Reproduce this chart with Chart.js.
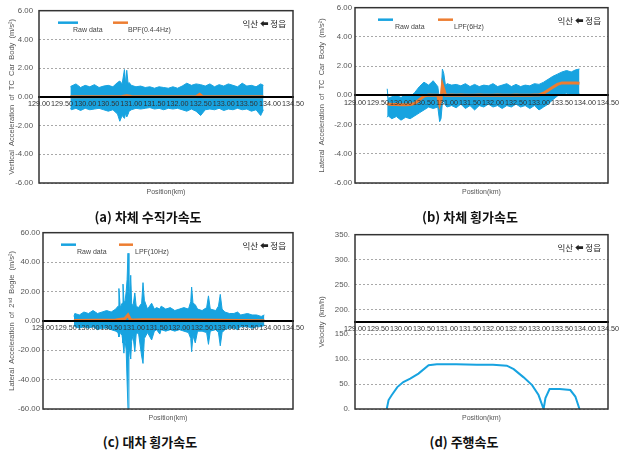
<!DOCTYPE html>
<html>
<head>
<meta charset="utf-8">
<script src="https://cdn.jsdelivr.net/npm/chart.js@4.4.0/dist/chart.umd.min.js"></script>
<style>
  html, body { margin: 0; padding: 0; background: #fff; }
  body { width: 625px; height: 454px; position: relative; overflow: hidden; }
  canvas { position: absolute; }
  .cap {
    position: absolute; font-family: "Noto Sans CJK KR", sans-serif; font-weight: bold;
    font-size: 13px; line-height: 16px; color: #111; white-space: nowrap; transform: translateX(-50%);
  }
</style>
</head>
<body>
<canvas id="chartA" width="310" height="200" style="left:0;top:0"></canvas>
<canvas id="chartB" width="315" height="200" style="left:310px;top:0"></canvas>
<canvas id="chartC" width="310" height="200" style="left:0;top:225px"></canvas>
<canvas id="chartD" width="315" height="200" style="left:310px;top:225px"></canvas>
<div class="cap" style="left:148px;top:209px">(a) 차체 수직가속도</div>
<div class="cap" style="left:470px;top:209px">(b) 차체 횡가속도</div>
<div class="cap" style="left:150px;top:434px">(c) 대차 횡가속도</div>
<div class="cap" style="left:464px;top:434px">(d) 주행속도</div>
<script>
// x axis (km), shared by all four panels
const xTicks = [129.0, 129.5, 130.0, 130.5, 131.0, 131.5, 132.0, 132.5, 133.0, 133.5, 134.0, 134.5];
const yTicksBody = [-6, -4, -2, 0, 2, 4, 6];
const yTicksBogie = [-60, -40, -20, 0, 20, 40, 60];
const yTicksSpeed = [0, 50, 100, 150, 200, 250, 300, 350];

// (a) vertical acceleration, car body - raw data envelope + BPF
const posA = [129.68, 129.70, 129.80, 129.90, 130.00, 130.10, 130.20, 130.30, 130.40, 130.50,
              130.60, 130.70, 130.75, 130.80, 130.85, 130.88, 130.90, 130.93, 130.95, 131.00,
              131.10, 131.20, 131.30, 131.40, 131.50, 131.60, 131.70, 131.80, 131.90, 132.00,
              132.10, 132.20, 132.30, 132.40, 132.50, 132.60, 132.70, 132.80, 132.90, 133.00,
              133.10, 133.20, 133.30, 133.40, 133.50, 133.60, 133.70, 133.80, 133.86];
const rawUpperA = [0.70, 0.75, 0.90, 0.65, 0.80, 0.70, 0.85, 0.65, 0.75, 0.80,
                   0.70, 1.00, 1.10, 0.90, 1.90, 0.80, 1.85, 0.90, 1.00, 0.80,
                   0.70, 0.75, 0.65, 0.70, 0.60, 0.70, 0.65, 0.60, 0.70, 0.60,
                   0.75, 0.95, 0.80, 0.90, 0.85, 0.75, 0.90, 0.70, 0.85, 0.75,
                   0.90, 0.80, 0.70, 0.95, 0.75, 0.80, 0.70, 0.90, 0.80];
const rawLowerA = [-0.80, -0.90, -0.80, -0.95, -0.80, -0.90, -0.85, -0.80, -0.90, -1.00,
                   -0.90, -1.20, -1.70, -1.30, -1.50, -1.10, -1.40, -1.20, -1.00, -0.90,
                   -0.80, -0.85, -0.80, -0.75, -0.85, -0.80, -0.90, -0.80, -0.85, -0.80,
                   -0.90, -1.00, -0.85, -1.00, -1.30, -0.90, -0.85, -0.90, -0.80, -0.95,
                   -0.85, -0.90, -0.80, -0.90, -0.85, -1.00, -0.90, -1.30, -0.90];
const bpfPosA = [129.68, 130.80, 130.90, 131.00, 132.40, 132.48, 132.55, 133.86];
const bpfA = [0.00, 0.02, 0.08, 0.02, 0.00, 0.18, 0.00, 0.00];

// (b) lateral acceleration, car body - raw data envelope + LPF(6Hz)
const posB = [129.70, 129.72, 129.80, 129.90, 130.00, 130.10, 130.20, 130.30, 130.40, 130.50,
              130.60, 130.70, 130.80, 130.84, 130.87, 130.90, 130.93, 130.97, 131.00, 131.10,
              131.20, 131.30, 131.40, 131.50, 131.60, 131.70, 131.80, 131.90, 132.00, 132.10,
              132.20, 132.30, 132.40, 132.50, 132.60, 132.70, 132.80, 132.90, 133.00, 133.10,
              133.20, 133.30, 133.40, 133.50, 133.60, 133.70, 133.80, 133.88];
const rawUpperB = [0.45, -0.20, -0.10, 0.00, -0.15, 0.05, -0.10, 0.20, 0.60, 0.90,
                   0.70, 1.00, 0.60, -0.30, 0.00, 1.80, 1.50, 0.60, 0.80, 0.70,
                   0.75, 0.65, 0.80, 0.60, 0.75, 0.60, 0.70, 0.65, 0.80, 0.60,
                   0.70, 0.80, 0.60, 0.75, 0.60, 0.70, 0.65, 0.80, 0.75, 0.90,
                   1.10, 1.30, 1.45, 1.60, 1.70, 1.60, 1.75, 1.80];
const rawLowerB = [-1.50, -1.40, -1.60, -1.45, -1.70, -1.50, -1.60, -1.40, -1.20, -1.00,
                   -0.80, -0.90, -0.80, -1.80, -1.60, -0.50, -0.40, -0.70, -0.80, -0.70,
                   -0.85, -0.60, -0.90, -0.70, -1.00, -0.70, -0.80, -0.60, -0.80, -0.70,
                   -0.90, -0.70, -0.80, -0.60, -0.80, -0.70, -0.90, -0.70, -1.00, -0.80,
                   -0.60, -0.30, -0.05, 0.10, 0.15, 0.05, 0.10, 0.10];
const lpfB = [-0.60, -0.60, -0.62, -0.63, -0.65, -0.65, -0.62, -0.55, -0.30, -0.05,
              0.02, 0.00, 0.00, -0.60, -0.30, 0.70, 0.40, 0.00, 0.00, 0.02,
              0.00, 0.02, 0.00, 0.01, 0.00, 0.02, 0.00, 0.01, 0.00, 0.02,
              0.00, 0.01, 0.00, 0.02, 0.00, 0.01, 0.00, 0.02, 0.03, 0.15,
              0.35, 0.55, 0.75, 0.85, 0.85, 0.85, 0.85, 0.83];

// (c) lateral acceleration, 2nd bogie - raw data envelope + LPF(10Hz)
const posC = [129.68, 129.70, 129.80, 129.90, 130.00, 130.10, 130.20, 130.30, 130.40, 130.50,
              130.60, 130.65, 130.67, 130.70, 130.74, 130.76, 130.78, 130.80, 130.83, 130.85,
              130.87, 130.89, 130.90, 130.93, 130.95, 130.98, 131.02, 131.05, 131.10, 131.17,
              131.20, 131.23, 131.30, 131.39, 131.45, 131.50, 131.57, 131.60, 131.70, 131.80,
              131.90, 132.00, 132.10, 132.20, 132.25, 132.27, 132.30, 132.35, 132.40, 132.50,
              132.60, 132.64, 132.68, 132.80, 132.86, 132.90, 132.94, 133.00, 133.10, 133.20,
              133.28, 133.35, 133.50, 133.60, 133.70, 133.80, 133.87];
const rawUpperC = [3, 5, 4, 6, 5, 7, 5, 6, 7, 6,
                   8, 10, 22, 9, 12, 25, 14, 12, 20, 28,
                   46, 20, 15, 31, 12, 10, 19, 10, 9, 12,
                   26, 14, 8, 12, 8, 9, 8, 10, 8, 9,
                   7, 8, 9, 8, 13, 23, 12, 11, 8, 7,
                   9, 17, 8, 7, 10, 18, 8, 6, 5, 5,
                   6, 4, 5, 4, 4, 3, 4];
const rawLowerC = [-3, -4, -5, -4, -5, -4, -6, -5, -5, -6,
                   -7, -8, -11, -8, -10, -15, -22, -12, -20, -41,
                   -60, -25, -18, -26, -14, -10, -21, -9, -8, -24,
                   -29, -12, -8, -13, -7, -6, -9, -6, -7, -6,
                   -7, -6, -7, -8, -12, -21, -10, -15, -7, -7,
                   -8, -16, -7, -6, -8, -17, -8, -6, -5, -5,
                   -6, -4, -4, -5, -4, -4, -3];
const lpfPosC = [129.68, 130.60, 130.80, 130.87, 130.92, 131.00, 131.20, 132.30, 133.87];
const lpfC = [0.3, 0.5, 1.5, 4.0, 1.0, 0.5, 0.8, 0.5, 0.0];

// (d) running speed (km/h)
const velPos = [129.69, 129.73, 129.80, 129.92, 130.05, 130.20, 130.38, 130.60, 130.78, 131.20,
                131.65, 132.00, 132.30, 132.45, 132.66, 132.85, 132.99, 133.10, 133.14, 133.23,
                133.45, 133.68, 133.79, 133.88];
const velocity = [0, 18, 28, 44, 54, 61, 71, 88, 90, 90,
                  89, 89, 87, 80, 64, 48, 28, 0, 22, 40,
                  40, 38, 25, 0];

const BLUE = '#17A3E0';
const ORANGE = '#ED7D31';
const TICK_FONT = { family: '"Liberation Sans", sans-serif', size: 7.2 };

const pts = (xs, ys) => xs.map((x, i) => ({ x, y: ys[i] }));

// frame, in-plot legend, direction note and x title
const decor = {
  id: 'decor',
  afterDraw(chart, args, opts) {
    const { ctx, chartArea: a } = chart;
    ctx.save();
    (opts.legend || []).forEach(item => {
      ctx.strokeStyle = item.color;
      ctx.lineWidth = 2.5;
      ctx.beginPath();
      ctx.moveTo(a.left + item.x0, a.top + 12);
      ctx.lineTo(a.left + item.x1, a.top + 12);
      ctx.stroke();
      ctx.fillStyle = '#444';
      ctx.font = '7px "Liberation Sans"';
      ctx.textAlign = 'left';
      ctx.textBaseline = 'middle';
      ctx.fillText(item.label, a.left + item.tx, a.top + 19);
    });
    ctx.fillStyle = '#222';
    ctx.font = '8.5px "Noto Sans CJK KR"';
    ctx.textAlign = 'right';
    ctx.textBaseline = 'middle';
    ctx.fillText('익산 ⬅ 정읍', a.right - 7, a.top + 13);

    ctx.fillStyle = '#555';
    ctx.font = '7px "Liberation Sans"';
    ctx.textAlign = 'center';
    ctx.fillText('Position(km)', (a.left + a.right) / 2, a.bottom + 9);

    ctx.strokeStyle = '#333';
    ctx.lineWidth = 1.5;
    ctx.strokeRect(a.left, a.top, a.right - a.left, a.bottom - a.top);
    ctx.restore();
  }
};

function xScale(crossAt) {
  return {
    type: 'linear', min: 129, max: 134.5,
    position: { y: crossAt },
    afterBuildTicks: s => { s.ticks = xTicks.map(v => ({ value: v })); },
    ticks: { z: 1, autoSkip: false, maxRotation: 0, color: '#333', padding: 3, font: TICK_FONT,
             callback: v => v.toFixed(2) },
    grid: { display: false, drawTicks: false },
    border: { display: true, color: '#000', width: 2, z: 1 }
  };
}

function yScale(min, max, ticks, fmt, title, width, pad) {
  return {
    type: 'linear', min, max,
    afterFit: s => { s.width = width; },
    afterBuildTicks: s => { s.ticks = ticks.map(v => ({ value: v })); },
    ticks: { color: '#555', padding: pad, font: { family: '"Liberation Sans", sans-serif', size: 7.8 }, callback: fmt },
    grid: { color: '#a8a8a8', drawTicks: false, lineWidth: 1 },
    border: { display: false, dash: [2, 2] },
    title: { display: true, text: title, color: '#555',
             font: { family: '"Liberation Sans", sans-serif', size: 7.5 },
             padding: { top: 7, bottom: 0 } }
  };
}

function rawBand(xs, upper, lower) {
  return [
    { data: pts(xs, upper), borderColor: BLUE, backgroundColor: BLUE, borderWidth: 1, fill: '+1', order: 2 },
    { data: pts(xs, lower), borderColor: BLUE, backgroundColor: BLUE, borderWidth: 1, fill: false, order: 2 }
  ];
}

function filtered(xs, ys) {
  return { data: pts(xs, ys), borderColor: ORANGE, borderWidth: 3, fill: false, order: 1 };
}

function makeChart(id, datasets, scales, padding, legend) {
  return new Chart(document.getElementById(id), {
    type: 'line',
    data: { datasets },
    options: {
      responsive: false,
      animation: false,
      parsing: false,
      elements: { point: { radius: 0 }, line: { tension: 0 } },
      layout: { padding },
      scales,
      plugins: { legend: { display: false }, tooltip: { enabled: false }, decor: { legend } }
    },
    plugins: [decor]
  });
}

const fmt2 = v => v.toFixed(2);

makeChart('chartA',
  [...rawBand(posA, rawUpperA, rawLowerA), filtered(bpfPosA, bpfA)],
  { x: xScale(0), y: yScale(-6, 6, yTicksBody, fmt2, 'Vertical  Acceleration  of  TC  Car  Body  (m/s²)', 39, 6) },
  { left: 0, top: 6, right: 17, bottom: 17 },
  [{ color: BLUE, x0: 19, x1: 39, tx: 34, label: 'Raw data' },
   { color: ORANGE, x0: 74, x1: 89, tx: 89, label: 'BPF(0.4-4Hz)' }]);

makeChart('chartB',
  [...rawBand(posB, rawUpperB, rawLowerB), filtered(posB, lpfB)],
  { x: xScale(0), y: yScale(-6, 6, yTicksBody, fmt2, 'Lateral  Acceleration  of  TC  Car  Body  (m/s²)', 45, 3) },
  { left: 0, top: 6, right: 17, bottom: 17 },
  [{ color: BLUE, x0: 23, x1: 38, tx: 40, label: 'Raw data' },
   { color: ORANGE, x0: 83, x1: 98, tx: 99, label: 'LPF(6Hz)' }]);

makeChart('chartC',
  [...rawBand(posC, rawUpperC, rawLowerC), filtered(lpfPosC, lpfC)],
  { x: xScale(0), y: yScale(-60, 60, yTicksBogie, fmt2, 'Lateral  Acceleration  of  2ⁿᵈ  Bogie  (m/s²)', 43, 3) },
  { left: 0, top: 6, right: 17, bottom: 16 },
  [{ color: BLUE, x0: 18, x1: 33, tx: 34, label: 'Raw data' },
   { color: ORANGE, x0: 76, x1: 90, tx: 92, label: 'LPF(10Hz)' }]);

makeChart('chartD',
  [{ data: pts(velPos, velocity), borderColor: BLUE, borderWidth: 2, fill: false }],
  { x: xScale(175), y: yScale(0, 350, yTicksSpeed, v => v + '.', 'Velocity  (km/h)', 45, 5) },
  { left: 0, top: 6, right: 17, bottom: 16 },
  []);
</script>
</body>
</html>
